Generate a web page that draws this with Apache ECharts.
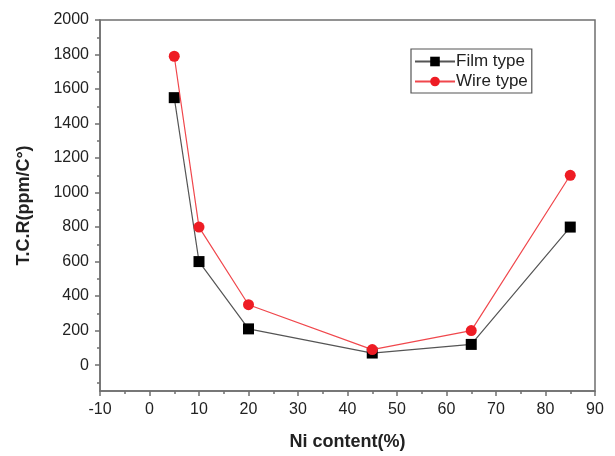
<!DOCTYPE html>
<html>
<head>
<meta charset="utf-8">
<script src="https://cdn.jsdelivr.net/npm/echarts@6/dist/echarts.min.js"></script>
<style>
  html, body { margin: 0; padding: 0; background: #fff; }
  #chart { width: 615px; height: 456px; }
</style>
</head>
<body>
<div id="chart"></div>
<script>
const niContent = [5, 10, 20, 45, 65, 85];
const filmType = [1550, 600, 210, 70, 120, 800];
const wireType = [1790, 800, 350, 90, 200, 1100];
const yMajorTicks = [0, 200, 400, 600, 800, 1000, 1200, 1400, 1600, 1800, 2000];
const yMinorTicks = [-100, 100, 300, 500, 700, 900, 1100, 1300, 1500, 1700, 1900];

const pairs = (ys) => niContent.map((x, i) => [x, ys[i]]);

const axisGray = '#6f6f6f';
const textColor = '#222';
const font = 'Liberation Sans, Arial, sans-serif';

const chart = echarts.init(document.getElementById('chart'), null, { renderer: 'canvas' });

chart.setOption({
  backgroundColor: '#fff',
  animation: false,
  grid: {
    left: 100, right: 20, top: 20, bottom: 65,
    show: true, borderColor: axisGray, borderWidth: 1.5
  },
  legend: {
    orient: 'vertical',
    left: 411, top: 49,
    padding: [4, 4, 3, 3],
    itemGap: 3,
    itemWidth: 40, itemHeight: 12,
    borderColor: '#555', borderWidth: 1.2,
    textStyle: { fontFamily: font, fontSize: 17, color: textColor, padding: [0, 0, 0, -4] },
    data: ['Film type', 'Wire type']
  },
  xAxis: {
    type: 'value',
    min: -10, max: 90, interval: 10,
    name: 'Ni content(%)',
    nameLocation: 'middle',
    nameGap: 42,
    nameTextStyle: { fontFamily: font, fontSize: 18, fontWeight: 'bold', color: textColor },
    axisLine: { onZero: false, lineStyle: { color: axisGray, width: 1.5 } },
    axisTick: { inside: false, length: 5, lineStyle: { color: axisGray, width: 1.5 } },
    minorTick: { show: true, splitNumber: 2, length: 3, lineStyle: { color: axisGray, width: 1.5 } },
    axisLabel: { fontFamily: font, fontSize: 16, color: textColor, margin: 11 },
    splitLine: { show: false }
  },
  yAxis: [{
    type: 'value',
    min: -150, max: 2000,
    name: 'T.C.R(ppm/C°)',
    nameLocation: 'middle',
    nameGap: 67,
    nameRotate: 90,
    nameTextStyle: { fontFamily: font, fontSize: 18, fontWeight: 'bold', color: textColor },
    axisLine: { show: true, onZero: false, lineStyle: { color: axisGray, width: 1.5 } },
    axisTick: { show: true, inside: false, length: 5, customValues: yMajorTicks, lineStyle: { color: axisGray, width: 1.5 } },
    axisLabel: { fontFamily: font, fontSize: 16, color: textColor, margin: 11, customValues: yMajorTicks, formatter: (v) => String(v) },
    splitLine: { show: false }
  }, {
    type: 'value',
    min: -150, max: 2000,
    position: 'left',
    axisLine: { show: false, onZero: false },
    axisTick: { show: true, inside: false, length: 3, customValues: yMinorTicks, lineStyle: { color: axisGray, width: 1.5 } },
    axisLabel: { show: false },
    splitLine: { show: false }
  }],
  series: [{
    name: 'Film type',
    type: 'line',
    data: pairs(filmType),
    symbol: 'rect',
    symbolSize: 11,
    itemStyle: { color: '#000' },
    lineStyle: { color: '#555', width: 1.2 },
    z: 2
  }, {
    name: 'Wire type',
    type: 'line',
    data: pairs(wireType),
    symbol: 'circle',
    symbolSize: 11,
    itemStyle: { color: '#ee1c24' },
    lineStyle: { color: '#f0474c', width: 1.2 },
    z: 3
  }]
});
</script>
</body>
</html>
